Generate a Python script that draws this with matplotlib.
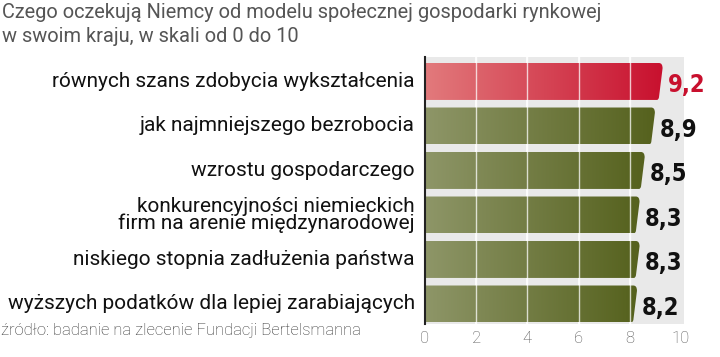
import numpy as np
import matplotlib.pyplot as plt
from matplotlib.colors import LinearSegmentedColormap
from matplotlib.path import Path
from matplotlib.patches import PathPatch, Rectangle

title = 'Czego oczekują Niemcy od modelu społecznej gospodarki rynkowej\nw swoim kraju, w skali od 0 do 10'
source = 'źródło: badanie na zlecenie Fundacji Bertelsmanna'
labels = ['równych szans zdobycia wykształcenia',
          'jak najmniejszego bezrobocia',
          'wzrostu gospodarczego',
          'konkurencyjności niemieckich\nfirm na arenie międzynarodowej',
          'niskiego stopnia zadłużenia państwa',
          'wyższych podatków dla lepiej zarabiających']
values = [9.2, 8.9, 8.5, 8.3, 8.3, 8.2]
ticks = [0, 2, 4, 6, 8, 10]

red_cmap = LinearSegmentedColormap.from_list('r', ['#e27a7c', '#c8102e'])
green_cmap = LinearSegmentedColormap.from_list('g', ['#8e9668', '#55611d'])

fig = plt.figure(figsize=(7.2, 3.57), dpi=100)
ax = fig.add_axes([425 / 720, 1 - 324 / 357, 256 / 720, 267 / 357])
ax.set_xlim(0, 10)
ax.set_ylim(5.45, -0.55)
for s in ax.spines.values():
    s.set_visible(False)
ax.set_yticks([])
ax.set_xticks(ticks)
ax.tick_params(axis='x', length=0, pad=5)
for tl in ax.get_xticklabels():
    tl.set_fontfamily('Roboto')
    tl.set_fontweight('light')
    tl.set_fontsize(12)
    tl.set_color('#555555')

# grey panel behind bars
ax.add_patch(Rectangle((0, -0.55), 10.1, 6.0, facecolor='#e9e9e9', edgecolor='none',
                       zorder=0, clip_on=False))
for t in ticks[1:-1]:
    ax.axvline(t, color='white', lw=1.2, zorder=1)

h = 0.83
grad = np.linspace(0, 1, 256).reshape(1, -1)
for i, (lab, v) in enumerate(zip(labels, values)):
    top, bot = i - h / 2, i + h / 2
    cmap = red_cmap if i == 0 else green_cmap
    im = ax.imshow(grad, cmap=cmap, aspect='auto', extent=(0, v + 0.1, bot, top), zorder=2)
    verts = [(0, top), (v - 0.06, top), (v + 0.08, top), (v + 0.08, top + 0.12),
             (v - 0.06, bot - 0.06), (v - 0.08, bot), (v - 0.14, bot),
             (0, bot), (0, top)]
    codes = [Path.MOVETO, Path.LINETO, Path.CURVE3, Path.CURVE3,
             Path.LINETO, Path.CURVE3, Path.CURVE3,
             Path.LINETO, Path.CLOSEPOLY]
    clip = PathPatch(Path(verts, codes), transform=ax.transData, facecolor='none', edgecolor='none')
    ax.add_patch(clip)
    im.set_clip_path(clip)
    ax.text(v + 0.27, i + 0.08, f'{v:.1f}'.replace('.', ','), ha='left', va='center',
            fontsize=17, fontweight='bold', fontstretch='condensed',
            family=['Liberation Sans Narrow', 'DejaVu Sans'],
            color='#c8102e' if i == 0 else '#111111', zorder=5, clip_on=False)
    ax.text(-0.4, i, lab, ha='right', va='center', fontsize=15, color='#111111',
            family=['Roboto', 'DejaVu Sans'], linespacing=0.85, clip_on=False)

for t in ticks[1:-1]:
    ax.axvline(t, color='white', lw=1.0, alpha=0.75, zorder=3)
ax.plot([0, 0], [-0.55, 5.45], color='#222222', lw=1.5, zorder=4, clip_on=False)

fig.text(2 / 720, 1 - 3 / 357, title, ha='left', va='top', fontsize=14.4, color='#555555',
         family=['Roboto', 'DejaVu Sans'], linespacing=1.3)
fig.text(1 / 720, 1 - 331 / 357, source, ha='left', va='center', fontsize=12, color='#333333',
         family=['Roboto', 'DejaVu Sans'], fontweight='light')

fig.savefig('out.png', dpi=100)
